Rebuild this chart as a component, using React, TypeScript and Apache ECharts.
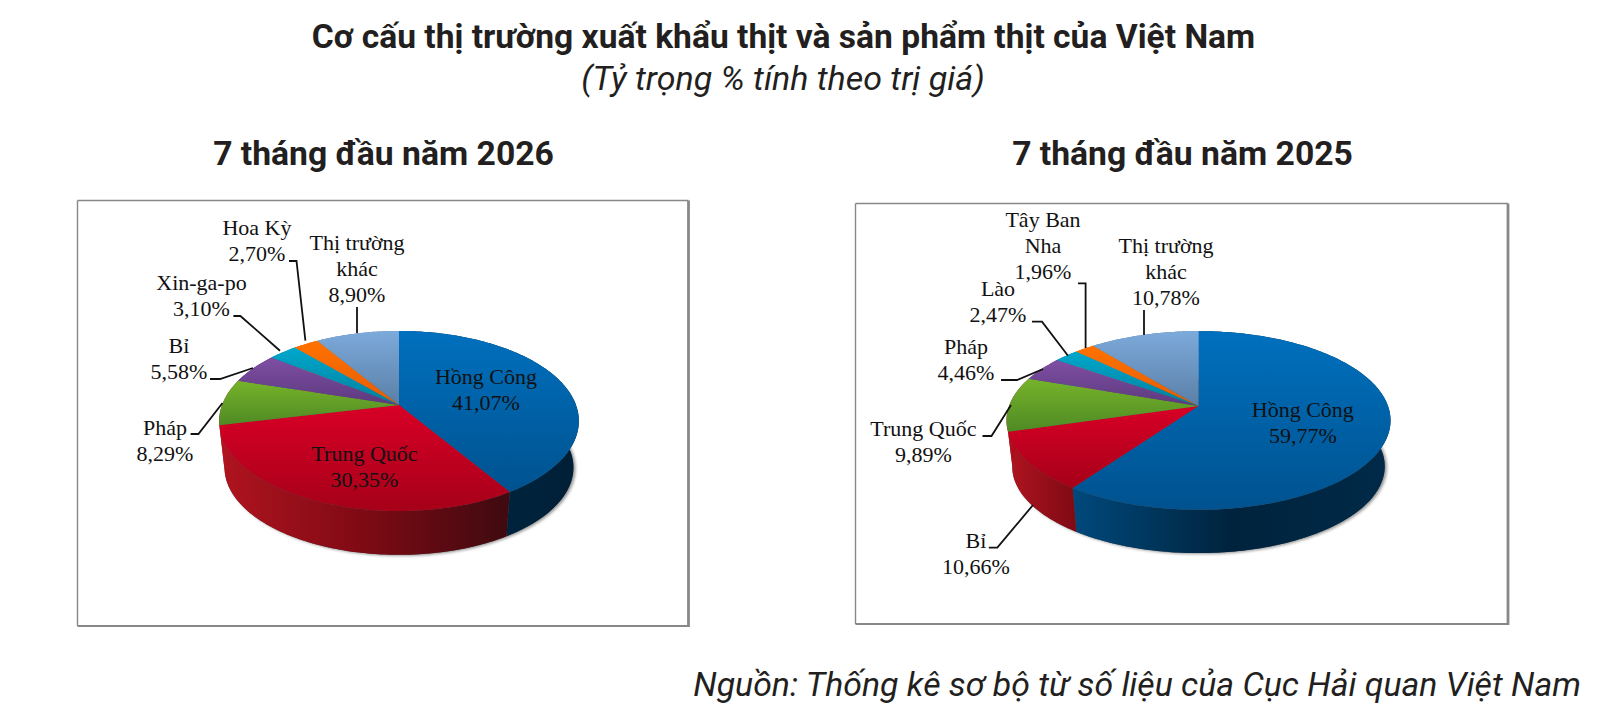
import React, { useEffect, useRef } from "react";
import * as echarts from "echarts";

const TITLE = "Cơ cấu thị trường xuất khẩu thịt và sản phẩm thịt của Việt Nam";
const SUBTITLE = "(Tỷ trọng % tính theo trị giá)";
const HEAD_2026 = "7 tháng đầu năm 2026";
const HEAD_2025 = "7 tháng đầu năm 2025";
const SOURCE = "Nguồn: Thống kê sơ bộ từ số liệu của Cục Hải quan Việt Nam";

const categories2026 = ["Hồng Công", "Trung Quốc", "Pháp", "Bỉ", "Xin-ga-po", "Hoa Kỳ", "Thị trường\nkhác"];
const values2026 = [41.07, 30.35, 8.29, 5.58, 3.1, 2.7, 8.9];
const categories2025 = ["Hồng Công", "Bỉ", "Trung Quốc", "Pháp", "Lào", "Tây Ban\nNha", "Thị trường\nkhác"];
const values2025 = [59.77, 10.66, 9.89, 4.46, 2.47, 1.96, 10.78];

const topColors = [
  ["#0070BE", "#00528F"],
  ["#D80026", "#A60019"],
  ["#76B32A", "#4E8A24"],
  ["#7F4EA3", "#5C3A7E"],
  ["#00A8CC", "#007F9E"],
  ["#FF7200", "#E65C00"],
  ["#7CAADB", "#5A7FA6"],
];
const sideColors2026 = [
  ["#002A48", "#001F36"],
  ["#B0141F", "#7E0A14", "#3E0A10"],
  ["#B0141F", "#B0141F"],
  ["#5C3A7E", "#5C3A7E"],
  ["#007F9E", "#007F9E"],
  ["#E65C00", "#E65C00"],
  ["#5A7FA6", "#5A7FA6"],
];
const sideColors2025 = [
  ["#00497C", "#00233D", "#002A48"],
  ["#B0141F", "#7E0A14"],
  ["#B0141F", "#9C0018"],
  ["#5C3A7E", "#5C3A7E"],
  ["#007F9E", "#007F9E"],
  ["#E65C00", "#E65C00"],
  ["#5A7FA6", "#5A7FA6"],
];

const geom2026 = { cx: 399, cy: 405, a: 177, b: 87.2, k: 0.1777, s: 0.97, d: 47 };
const geom2025 = { cx: 1198.5, cy: 406, a: 189.5, b: 87, k: 0.162, s: 0.97, d: 46.4 };

const labelPos2026 = [[486, 389.5], [364.5, 466], [165, 440], [179, 358], [201.5, 295.5], [257, 240], [357, 268]];
const labelPos2025 = [[1302.8, 422], [976, 553.5], [923.4, 441.5], [966, 359], [998, 301], [1043, 245], [1166, 271]];

const leaders2026 = [
  null, null,
  [[190.6, 434], [198.4, 434], [222.5, 403]],
  [[210, 379], [220, 379], [253, 368]],
  [[233.4, 316], [240.4, 316], [280, 350.7]],
  [[289, 261], [296.5, 261], [305.4, 340.7]],
  [[357, 307], [357, 333]],
];
const leaders2025 = [
  null,
  [[988.8, 547.7], [997.3, 547.7], [1033, 505]],
  [[982.5, 436], [991.5, 436], [1011, 405]],
  [[1001, 380], [1017, 380], [1043, 369]],
  [[1032, 321.7], [1042, 321.7], [1068, 355.7]],
  [[1078, 283.3], [1085.6, 283.3], [1085.6, 348]],
  [[1144, 310], [1144, 335]],
];

type Geom = typeof geom2026;

const rim = (g: Geom, t: number, s: number, dy: number) => {
  const w = 1 + g.k * Math.cos(t);
  return [g.cx + (s * g.a * Math.sin(t)) / w, g.cy + dy - (s * g.b * Math.cos(t)) / w];
};

const arc = (g: Geom, t0: number, t1: number, s: number, dy: number) => {
  const n = Math.max(2, Math.ceil(((t1 - t0) * 180) / Math.PI));
  const out: number[][] = [];
  for (let i = 0; i <= n; i++) out.push(rim(g, t0 + ((t1 - t0) * i) / n, s, dy));
  return out;
};

const grad = (colors: string[], vertical: boolean) =>
  new echarts.graphic.LinearGradient(
    0, 0, vertical ? 0 : 1, vertical ? 1 : 0,
    colors.map((color, i) => ({ offset: i / (colors.length - 1), color }))
  );

const bounds = (values: number[]) => {
  const total = values.reduce((p, c) => p + c, 0);
  let acc = 0;
  return values.map((v) => {
    const t0 = (acc / total) * 2 * Math.PI;
    acc += v;
    return [t0, (acc / total) * 2 * Math.PI];
  });
};

const pieSeries = (
  names: string[],
  values: number[],
  g: Geom,
  sides: string[][],
  pos: number[][],
  leaders: (number[][] | null)[]
) => {
  const angles = bounds(values);
  const data = values.map((v, i) => ({ name: names[i].replace("\n", " "), value: [i, v] }));
  return [
    {
      type: "custom",
      coordinateSystem: "none",
      z: 1,
      silent: true,
      clip: false,
      data: data.slice(0, 1),
      renderItem: () => ({
        type: "polygon",
        shape: { points: arc(g, 0, 2 * Math.PI, g.s, g.d) },
        style: { fill: "#555555", shadowBlur: 3, shadowColor: "rgba(0,0,0,0.42)", shadowOffsetX: 2, shadowOffsetY: 1 },
      }),
    },
    {
      type: "custom",
      coordinateSystem: "none",
      z: 2,
      silent: true,
      clip: false,
      data,
      renderItem: (p: any) => {
        const [t0, t1] = angles[p.dataIndex];
        const top = arc(g, t0, t1, 1, 0);
        const bot = arc(g, t0, t1, g.s, g.d).reverse();
        return {
          type: "polygon",
          shape: { points: [...top, ...bot] },
          style: { fill: grad(sides[p.dataIndex], false) },
        };
      },
    },
    {
      type: "custom",
      coordinateSystem: "none",
      z: 3,
      silent: true,
      clip: false,
      data,
      renderItem: (p: any) => {
        const [t0, t1] = angles[p.dataIndex];
        return {
          type: "polygon",
          shape: { points: [[g.cx, g.cy], ...arc(g, t0, t1, 1, 0)] },
          style: { fill: grad(topColors[p.dataIndex], true) },
        };
      },
    },
    {
      type: "custom",
      coordinateSystem: "none",
      z: 4,
      silent: true,
      clip: false,
      data,
      renderItem: (p: any, api: any) => {
        const i = p.dataIndex;
        const pct = api.value(1).toFixed(2).replace(".", ",") + "%";
        const children: any[] = [
          {
            type: "text",
            style: {
              text: names[i] + "\n" + pct,
              x: pos[i][0],
              y: pos[i][1],
              align: "center",
              verticalAlign: "middle",
              fill: "#111111",
              font: '22px "Liberation Serif"',
              lineHeight: 26,
            },
          },
        ];
        const l = leaders[i];
        if (l) {
          children.push({
            type: "polyline",
            shape: { points: l },
            style: { stroke: "#111111", lineWidth: 1.8, fill: "none" },
          });
        }
        return { type: "group", children };
      },
    },
  ];
};

const FRAME_COLOR = "#888888";
const frame = (x0: number, y0: number, x1: number, y1: number) => [
  { type: "line", z: 0, shape: { x1: x0, y1: y0, x2: x1, y2: y0 }, style: { stroke: FRAME_COLOR, lineWidth: 1.4 } },
  { type: "line", z: 0, shape: { x1: x0, y1: y0, x2: x0, y2: y1 }, style: { stroke: FRAME_COLOR, lineWidth: 1.4 } },
  { type: "line", z: 0, shape: { x1: x1, y1: y0, x2: x1, y2: y1 + 1 }, style: { stroke: FRAME_COLOR, lineWidth: 2.8 } },
  { type: "line", z: 0, shape: { x1: x0, y1: y1, x2: x1, y2: y1 }, style: { stroke: FRAME_COLOR, lineWidth: 2.2 } },
];

const title = (text: string, left: number, top: number, size: number, bold: boolean, italic: boolean, align = "center") => ({
  text,
  left,
  top,
  padding: 0,
  textAlign: align,
  textVerticalAlign: "middle",
  textStyle: {
    fontFamily: "Roboto",
    fontSize: size,
    fontWeight: bold ? 700 : 400,
    fontStyle: italic ? "italic" : "normal",
    color: "#231F20",
  },
});

export default function App() {
  const ref = useRef<HTMLDivElement>(null);
  useEffect(() => {
    const chart = echarts.init(ref.current!, undefined, { renderer: "svg" });
    chart.setOption({
      animation: false,
      backgroundColor: "#ffffff",
      title: [
        title(TITLE, 783.5, 36, 33.6, true, false),
        title(SUBTITLE, 783, 78, 34, false, true),
        title(HEAD_2026, 383.5, 153, 33.7, true, false),
        title(HEAD_2025, 1182.5, 153, 33.7, true, false),
        title(SOURCE, 1581, 684, 33.8, false, true, "right"),
      ],
      graphic: [...frame(77.5, 200.5, 688.5, 626), ...frame(855.5, 203.5, 1508, 624)],
      series: [
        ...pieSeries(categories2026, values2026, geom2026, sideColors2026, labelPos2026, leaders2026),
        ...pieSeries(categories2025, values2025, geom2025, sideColors2025, labelPos2025, leaders2025),
      ],
    });
    return () => chart.dispose();
  }, []);
  return <div ref={ref} style={{ position: "absolute", left: 0, top: 0, width: 1608, height: 712 }} />;
}
